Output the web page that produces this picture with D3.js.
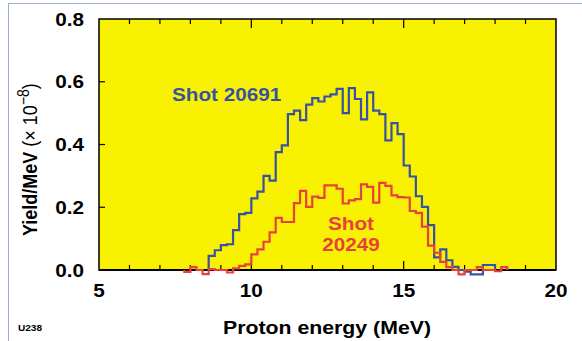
<!DOCTYPE html>
<html>
<head>
<meta charset="utf-8">
<script src="https://cdn.jsdelivr.net/npm/d3@7"></script>
<style>
  html, body { margin: 0; padding: 0; background: #fff; }
  svg { display: block; font-family: "Liberation Sans", Arial, sans-serif; }
</style>
</head>
<body>
<svg id="chart"></svg>
<script>
// tick labels
const xTicks = [5, 10, 15, 20];
const yTicks = [0.0, 0.2, 0.4, 0.6, 0.8];

// histogram bins (MeV)
const binWidth = 0.2;
const shot20691Start = 8.6;
const shot20691 = [
  0.045, 0.063, 0.079, 0.082, 0.127, 0.178, 0.182, 0.228, 0.250, 0.300,
  0.285, 0.376, 0.397, 0.497, 0.508, 0.478, 0.527, 0.548, 0.537, 0.553,
  0.560, 0.577, 0.500, 0.580, 0.545, 0.480, 0.566, 0.508, 0.497, 0.413,
  0.468, 0.433, 0.333, 0.298, 0.235, 0.201, 0.143, 0.040, 0.066, 0.031,
  0.010, 0.000, -0.005, -0.014, -0.014, 0.016, 0.016
];
const shot20249Start = 7.8;
const shot20249 = [
  -0.006, 0.009, 0.000, -0.013, 0.003, 0.000, 0.000, -0.008, 0.005, 0.013,
  0.018, 0.050, 0.066, 0.090, 0.120, 0.166, 0.153, 0.153, 0.213, 0.252,
  0.201, 0.234, 0.230, 0.270, 0.270, 0.259, 0.212, 0.222, 0.226, 0.273,
  0.265, 0.215, 0.278, 0.268, 0.238, 0.232, 0.231, 0.188, 0.182, 0.138,
  0.078, 0.055, 0.026, 0.009, 0.000, -0.014, 0.000, 0.000, 0.009, 0.000,
  0.000, -0.004, 0.009
];

const blue = '#3752a3';
const red = '#e8403f';
const yellow = '#f8f200';
const stretch = 1.12; // the original figure is a bit wide

const width = 582, height = 341;
const plot = { left: 99, right: 556, top: 19, bottom: 270 };

const svg = d3.select('#chart').attr('width', width).attr('height', height);

const x = d3.scaleLinear().domain([5, 20]).range([plot.left, plot.right]);
const y = d3.scaleLinear().domain([0, 0.8]).range([plot.bottom, plot.top]);

// outer frame
svg.append('rect')
  .attr('x', 8.5).attr('y', 3.5)
  .attr('width', 640).attr('height', 400)
  .attr('fill', 'none')
  .attr('stroke', '#9aaed2')
  .attr('stroke-width', 1);

svg.append('rect')
  .attr('x', plot.left).attr('y', plot.top)
  .attr('width', plot.right - plot.left)
  .attr('height', plot.bottom - plot.top)
  .attr('fill', yellow)
  .attr('stroke', '#000')
  .attr('stroke-width', 1.5);

// ticks, pointing inward
const minorX = d3.range(6, 20, 1).filter(d => d % 5 !== 0);
const majorX = [10, 15];
function tickSet(vals, len, y0, dir) {
  svg.append('g').selectAll('line').data(vals).join('line')
    .attr('x1', d => x(d)).attr('x2', d => x(d))
    .attr('y1', y0).attr('y2', y0 + dir * len)
    .attr('stroke', '#000').attr('stroke-width', 1.2);
}
tickSet(minorX, 5, plot.bottom, -1);
tickSet(majorX, 9, plot.bottom, -1);
tickSet(minorX, 5, plot.top, 1);
tickSet(majorX, 9, plot.top, 1);

svg.append('g').selectAll('line').data(yTicks.slice(1, -1)).join('line')
  .attr('x1', plot.left).attr('x2', plot.left + 6)
  .attr('y1', d => y(d)).attr('y2', d => y(d))
  .attr('stroke', '#000').attr('stroke-width', 1.2);

// bottom axis line
svg.append('line')
  .attr('x1', plot.left).attr('x2', plot.right)
  .attr('y1', plot.bottom).attr('y2', plot.bottom)
  .attr('stroke', '#000').attr('stroke-width', 2);

// step lines
function stepPoints(start, vals) {
  const pts = [[start, 0]];
  vals.forEach((v, i) => pts.push([start + i * binWidth, v]));
  const end = start + vals.length * binWidth;
  pts.push([end, vals[vals.length - 1]]);
  pts.push([end, 0]);
  return pts;
}
const line = d3.line()
  .x(d => x(d[0]))
  .y(d => y(d[1]))
  .curve(d3.curveStepAfter);

svg.append('path')
  .attr('d', line(stepPoints(shot20691Start, shot20691)))
  .attr('fill', 'none').attr('stroke', blue).attr('stroke-width', 2.2);
svg.append('path')
  .attr('d', line(stepPoints(shot20249Start, shot20249)))
  .attr('fill', 'none').attr('stroke', red).attr('stroke-width', 2.2);

// horizontal text helper (stretched like the original)
function label(tx, ty, str, opts) {
  return svg.append('text')
    .attr('transform', `translate(${tx},${ty}) scale(${stretch},1)`)
    .attr('text-anchor', opts.anchor || 'start')
    .attr('font-size', opts.size)
    .attr('font-weight', opts.weight || 'bold')
    .attr('fill', opts.color || '#000')
    .text(str);
}

xTicks.forEach(d => label(x(d), 297, d, { anchor: 'middle', size: 18.5 }));
yTicks.forEach(d => label(84, y(d) + 6.5, d.toFixed(1), { anchor: 'end', size: 18.5 }));

label(327, 334, 'Proton energy (MeV)', { anchor: 'middle', size: 19 });
label(18, 331, 'U238', { size: 9 });

label(172, 101, 'Shot 20691', { size: 18.5, color: blue });
label(351, 230, 'Shot', { anchor: 'middle', size: 18.5, color: red });
label(351, 251, '20249', { anchor: 'middle', size: 18.5, color: red });

// y title
const yt = svg.append('text')
  .attr('transform', `translate(37,236) scale(${stretch},1) rotate(-90)`)
  .attr('font-size', 18)
  .attr('fill', '#000');
yt.append('tspan').attr('font-weight', 'bold').text('Yield/MeV');
yt.append('tspan').text(' (\u00d7 10');
yt.append('tspan').attr('font-size', 14).attr('dy', -7).text('\u22128');
yt.append('tspan').attr('dy', 7).text(')');
</script>
</body>
</html>
